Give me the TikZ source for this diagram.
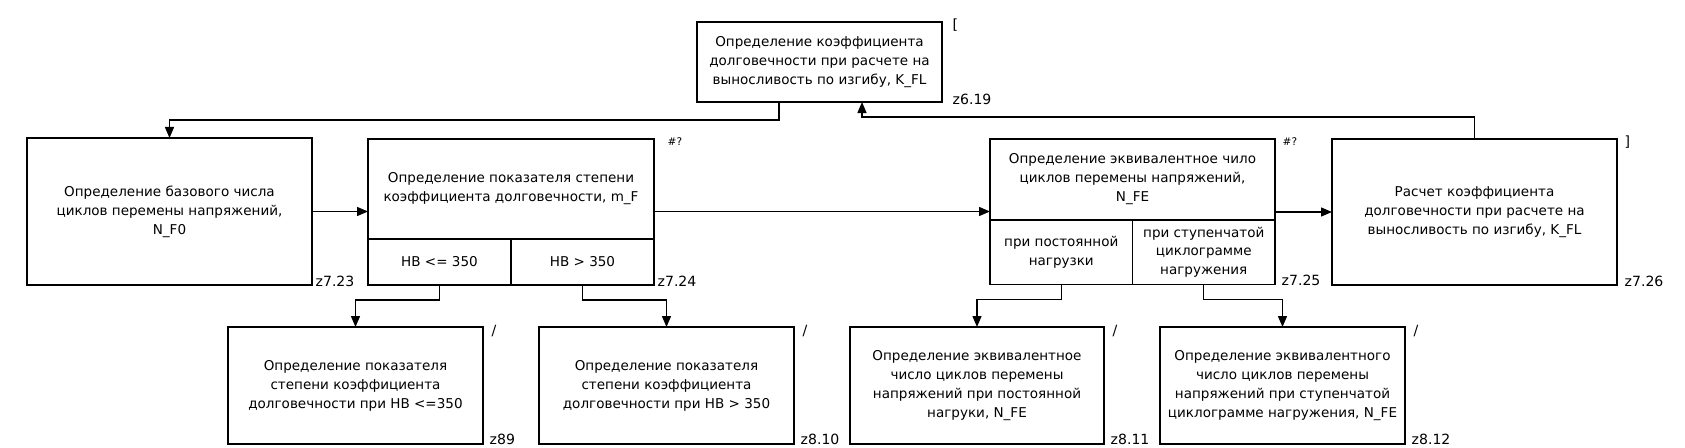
\documentclass[tikz,border=0pt]{standalone}
\usepackage{fontspec}
\setmainfont{DejaVu Sans}
\usetikzlibrary{arrows.meta}

\begin{document}
\begin{tikzpicture}[line width = 0.8pt,
                    box/.style = {draw, align=center, inner sep=0pt, outer sep=0pt,
                                  font=\fontsize{7.7}{10.8}\selectfont},
                    arr/.style = {-{Triangle[length=0.22cm, width=0.18cm]}},
                    tag/.style = {anchor=west, inner sep=0pt, font=\fontsize{8}{10}\selectfont},
                    smalltag/.style = {anchor=west, inner sep=0pt, font=\fontsize{6}{7}\selectfont}]

\useasboundingbox (0,0) rectangle (33.7,8.94);

% top
\node [box, minimum width=4.9cm, minimum height=1.6cm] (P0) at (16.39,7.70)
  {Определение коэффициента\\долговечности при расчете на\\выносливость по изгибу, K\_FL};

% middle row
\node [box, minimum width=5.7cm, minimum height=2.94cm] (P1) at (3.39,4.71)
  {Определение базового числа\\циклов перемены напряжений,\\N\_F0};

\node [box, minimum width=5.72cm, minimum height=2.0cm] (P2) at (10.22,5.16)
  {Определение показателя степени\\коэффициента долговечности, m\_F};
\node [box, minimum width=2.86cm, minimum height=0.92cm] (P2a) at (8.79,3.70) {HB <= 350};
\node [box, minimum width=2.86cm, minimum height=0.92cm] (P2b) at (11.65,3.70) {HB > 350};

\node [box, minimum width=5.7cm, minimum height=1.62cm] (P3) at (22.65,5.35)
  {Определение эквивалентное чило\\циклов перемены напряжений,\\N\_FE};
\node [box, minimum width=2.85cm, minimum height=1.3cm] (P3a) at (21.225,3.895)
  {при постоянной\\нагрузки};
\node [box, minimum width=2.85cm, minimum height=1.3cm] (P3b) at (24.075,3.895)
  {при ступенчатой\\циклограмме\\нагружения};

\node [box, minimum width=5.7cm, minimum height=2.92cm] (P4) at (29.49,4.70)
  {Расчет коэффициента\\долговечности при расчете на\\выносливость по изгибу, K\_FL};

% bottom row
\node [box, minimum width=5.1cm, minimum height=2.34cm] (Q1) at (7.11,1.23)
  {Определение показателя\\степени коэффициента\\долговечности при HB <=350};
\node [box, minimum width=5.1cm, minimum height=2.34cm] (Q2) at (13.33,1.23)
  {Определение показателя\\степени коэффициента\\долговечности при HB > 350};
\node [box, minimum width=5.08cm, minimum height=2.34cm] (Q3) at (19.54,1.23)
  {Определение эквивалентное\\число циклов перемены\\напряжений при постоянной\\нагруки, N\_FE};
\node [box, minimum width=4.9cm, minimum height=2.34cm] (Q4) at (25.65,1.23)
  {Определение эквивалентного\\число циклов перемены\\напряжений при ступенчатой\\циклограмме нагружения, N\_FE};

% marks
\node [tag] (m0) at ([shift={(0.2,-0.06)}]P0.north east) {[};
\node [smalltag] (m2) at ([shift={(0.26,-0.06)}]P2.north east) {\#?};
\node [smalltag] (m3) at ([shift={(0.14,-0.06)}]P3.north east) {\#?};
\node [tag] (m4) at ([shift={(0.14,-0.06)}]P4.north east) {]};
\node [tag] (m5) at ([shift={(0.16,-0.08)}]Q1.north east) {/};
\node [tag] (m6) at ([shift={(0.16,-0.08)}]Q2.north east) {/};
\node [tag] (m7) at ([shift={(0.16,-0.08)}]Q3.north east) {/};
\node [tag] (m8) at ([shift={(0.16,-0.08)}]Q4.north east) {/};

% numbers
\node [tag] (z0) at ([shift={(0.2,0.06)}]P0.south east) {z6.19};
\node [tag] (z1) at ([shift={(0.06,0.08)}]P1.south east) {z7.23};
\node [tag] (z2) at ([shift={(0.06,0.08)}]P2b.south east) {z7.24};
\node [tag] (z3) at ([shift={(0.12,0.08)}]P3b.south east) {z7.25};
\node [tag] (z4) at ([shift={(0.14,0.08)}]P4.south east) {z7.26};
\node [tag] (z5) at ([shift={(0.12,0.1)}]Q1.south east) {z89};
\node [tag] (z6) at ([shift={(0.12,0.1)}]Q2.south east) {z8.10};
\node [tag] (z7) at ([shift={(0.12,0.1)}]Q3.south east) {z8.11};
\node [tag] (z8) at ([shift={(0.12,0.1)}]Q4.south east) {z8.12};

\draw [arr] ([xshift=-0.81cm]P0.south) -- ++(0,-0.36) -| (P1.north);
\draw [arr] (P4.north) -- ++(0,0.44) -| ([xshift=0.85cm]P0.south);

\draw [arr] (P1.east) -- (P1.east -| P2.west);
\draw [arr] (P2.east |- P1.east) -- (P3.west |- P1.east);
\draw [arr] (P3.east |- P4.west) -- (P4.west);

\draw [arr] (P2a.south) -- ++(0,-0.3) -| (Q1.north);
\draw [arr] (P2b.south) -- ++(0,-0.3) -| (Q2.north);
\draw [arr] (P3a.south) -- ++(0,-0.3) -| (Q3.north);
\draw [arr] (P3b.south) -- ++(0,-0.3) -| (Q4.north);

\end{tikzpicture}
\end{document}
